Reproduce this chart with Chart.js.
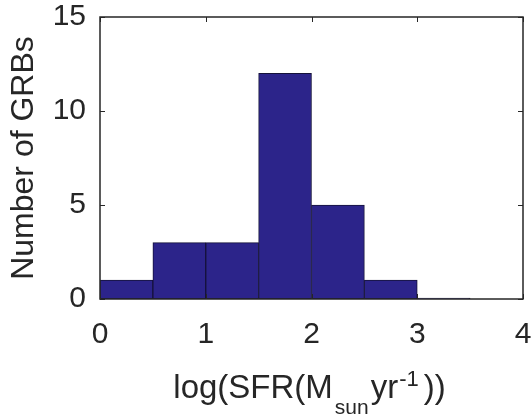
<!DOCTYPE html>
<html>
<head>
<meta charset="utf-8">
<script src="https://cdn.jsdelivr.net/npm/chart.js@4/dist/chart.umd.min.js"></script>
<style>
html,body{margin:0;padding:0;background:#fff;}
canvas{display:block;}
</style>
</head>
<body>
<canvas id="c" width="531" height="416"></canvas>
<script>
// Histogram bins (centers of 0.5-wide bins) and counts
const binCenters = [0.25, 0.75, 1.25, 1.75, 2.25, 2.75, 3.25];
const counts = [1, 3, 3, 12, 5, 1, 0];
const xTicks = [0, 1, 2, 3, 4];
const yTicks = [0, 5, 10, 15];
const yLabel = 'Number of GRBs';
const xLabelParts = [
  {t: 'log(SFR(M', k: 'n'},
  {t: 'sun', k: 'sub'},
  {t: 'yr', k: 'n'},
  {t: '-1', k: 'sup'},
  {t: '))', k: 'n'}
];

const FONT = '"Liberation Sans", Arial, Helvetica, sans-serif';
const TXT = '#262626';

const framePlugin = {
  id: 'frame',
  afterDraw(chart) {
    const ctx = chart.ctx;
    const a = chart.chartArea;
    const xs = chart.scales.x, ys = chart.scales.y;
    ctx.save();
    ctx.strokeStyle = '#262626';
    ctx.lineWidth = 1.5;
    ctx.strokeRect(a.left, a.top, a.right - a.left, a.bottom - a.top);
    ctx.lineWidth = 1;
    const tl = 5;
    ctx.beginPath();
    xTicks.forEach(v => {
      const px = Math.round(xs.getPixelForValue(v)) + 0.5;
      ctx.moveTo(px, a.bottom); ctx.lineTo(px, a.bottom - tl);
      ctx.moveTo(px, a.top); ctx.lineTo(px, a.top + tl);
    });
    yTicks.forEach(v => {
      const py = Math.round(ys.getPixelForValue(v)) + 0.5;
      ctx.moveTo(a.left, py); ctx.lineTo(a.left + tl, py);
      ctx.moveTo(a.right, py); ctx.lineTo(a.right - tl, py);
    });
    ctx.stroke();

    // x axis title with subscript / superscript
    const sizes = {n: 33, sub: 21, sup: 22};
    const gaps = [0, 2, 2, 1, 5];
    const baseY = 398;
    let total = 0;
    xLabelParts.forEach((p, i) => {
      ctx.font = sizes[p.k] + 'px ' + FONT;
      p.w = ctx.measureText(p.t).width;
      total += p.w + gaps[i];
    });
    let x = (a.left + a.right) / 2 - 2 - total / 2;
    ctx.fillStyle = TXT;
    ctx.textBaseline = 'alphabetic';
    ctx.textAlign = 'left';
    xLabelParts.forEach((p, i) => {
      ctx.font = sizes[p.k] + 'px ' + FONT;
      x += gaps[i];
      let y = baseY;
      if (p.k === 'sub') y = baseY + 16;
      if (p.k === 'sup') y = baseY - 12;
      ctx.fillText(p.t, x, y);
      x += p.w;
    });
    ctx.restore();
  }
};

new Chart(document.getElementById('c'), {
  type: 'bar',
  data: {
    datasets: [{
      data: binCenters.map((c, i) => ({x: c, y: counts[i]})),
      backgroundColor: 'rgb(44,36,138)',
      borderColor: '#15123a',
      borderWidth: 1,
      borderSkipped: false,
      barPercentage: 1,
      categoryPercentage: 1,
      minBarLength: 1
    }]
  },
  options: {
    responsive: false,
    animation: false,
    devicePixelRatio: 1,
    layout: {padding: {top: 17, right: 8, left: 0, bottom: 0}},
    plugins: {legend: {display: false}, tooltip: {enabled: false}},
    scales: {
      x: {
        type: 'linear',
        min: 0, max: 4,
        offset: false,
        afterBuildTicks: s => { s.ticks = xTicks.map(v => ({value: v})); },
        grid: {display: false, drawTicks: false},
        border: {display: false},
        ticks: {font: {size: 30, family: FONT}, color: TXT, padding: 18, maxRotation: 0},
        afterFit: s => { s.height = 117; s.paddingLeft = 0; s.paddingRight = 0; }
      },
      y: {
        min: 0, max: 15,
        afterBuildTicks: s => { s.ticks = yTicks.map(v => ({value: v})); },
        grid: {display: false, drawTicks: false},
        border: {display: false},
        ticks: {font: {size: 30, family: FONT}, color: TXT, padding: 14},
        title: {display: true, text: yLabel, font: {size: 32, family: FONT}, color: TXT, padding: {top: 5, bottom: 0}},
        afterFit: s => { s.width = 100; s.paddingTop = 0; s.paddingBottom = 0; }
      }
    }
  },
  plugins: [framePlugin]
});
</script>
</body>
</html>
